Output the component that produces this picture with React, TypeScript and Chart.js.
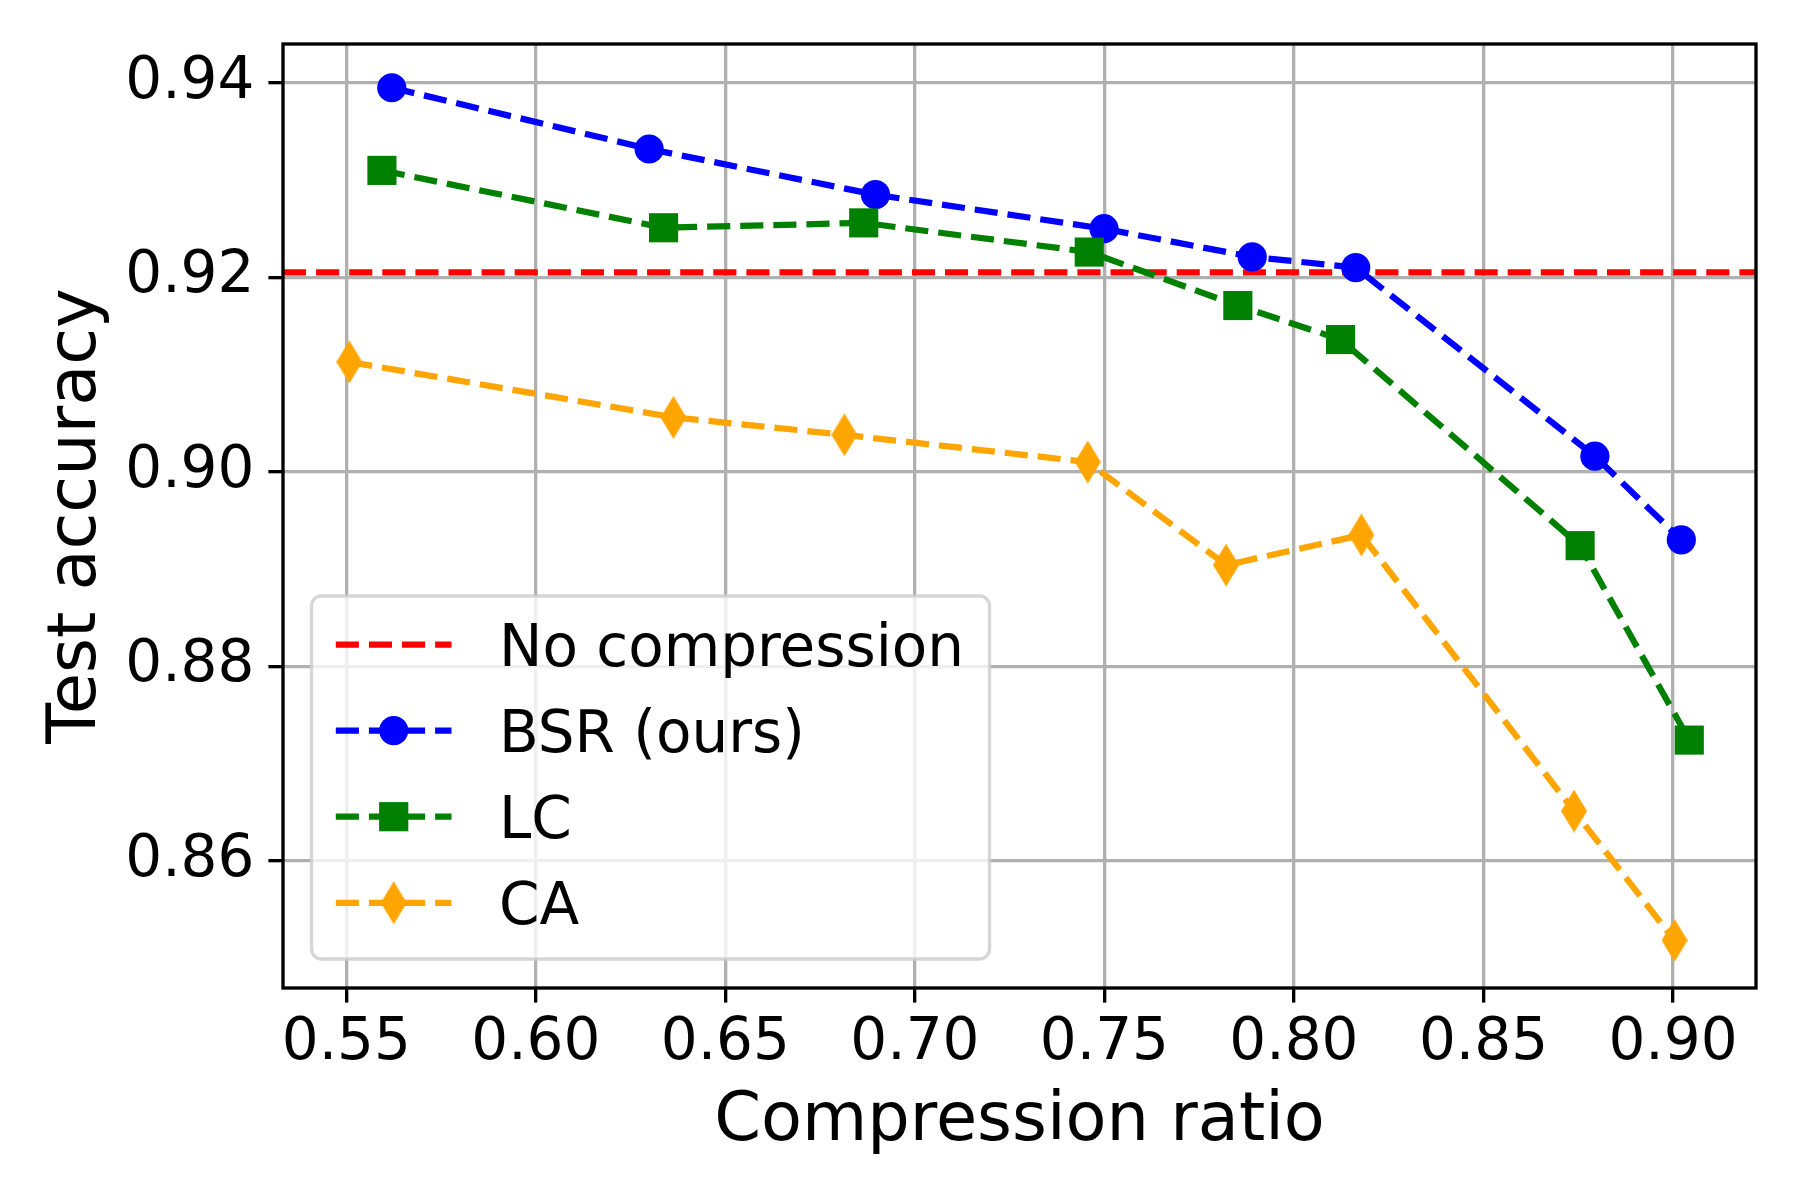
import { useEffect, useRef } from "react"
import { Chart, registerables } from "chart.js"

Chart.register(...registerables)

const X_TICKS = [0.55, 0.6, 0.65, 0.7, 0.75, 0.8, 0.85, 0.9]
const Y_TICKS = [0.86, 0.88, 0.9, 0.92, 0.94]
const X_MIN = 0.5333
const X_MAX = 0.9219
const Y_MIN = 0.8469
const Y_MAX = 0.944

const NO_COMPRESSION = 0.9205

const BSR_X = [0.562, 0.6299, 0.6896, 0.7499, 0.789, 0.8163, 0.8794, 0.9022]
const BSR_Y = [0.9395, 0.9332, 0.9285, 0.925, 0.9221, 0.921, 0.9016, 0.893]
const LC_X = [0.5594, 0.6337, 0.6865, 0.746, 0.7852, 0.8123, 0.8755, 0.9043]
const LC_Y = [0.931, 0.9251, 0.9256, 0.9226, 0.9171, 0.9136, 0.8924, 0.8724]
const CA_X = [0.5508, 0.6363, 0.6814, 0.7456, 0.7821, 0.8178, 0.8739, 0.9004]
const CA_Y = [0.9113, 0.9056, 0.9038, 0.901, 0.8904, 0.8935, 0.8651, 0.8518]

const FONT = "'DejaVu Sans', sans-serif"
const LW = 6.25
const DASH = [23.1, 10]

function pts(xs: number[], ys: number[]) {
  return xs.map((x, i) => ({ x, y: ys[i] }))
}

// matplotlib-style thin diamond marker
function makeDiamond(color: string) {
  const c = document.createElement("canvas")
  c.width = 26
  c.height = 43
  const g = c.getContext("2d")!
  g.fillStyle = color
  g.beginPath()
  g.moveTo(13, 0)
  g.lineTo(26, 21.5)
  g.lineTo(13, 43)
  g.lineTo(0, 21.5)
  g.closePath()
  g.fill()
  return c
}

function drawMarker(ctx: CanvasRenderingContext2D, kind: string, x: number, y: number, color: string, img?: HTMLCanvasElement) {
  ctx.save()
  ctx.fillStyle = color
  if (kind === "circle") {
    ctx.beginPath()
    ctx.arc(x, y, 14.6, 0, Math.PI * 2)
    ctx.fill()
  } else if (kind === "rect") {
    ctx.fillRect(x - 14.6, y - 14.6, 29.2, 29.2)
  } else if (kind === "diamond" && img) {
    ctx.drawImage(img, x - img.width / 2, y - img.height / 2)
  }
  ctx.restore()
}

export default function App() {
  const chartRef = useRef<HTMLCanvasElement>(null)
  const chartInstance = useRef<Chart | null>(null)

  useEffect(() => {
    document.body.style.margin = "0"
    if (!chartRef.current) return
    const ctx = chartRef.current.getContext("2d")
    if (!ctx) return
    if (chartInstance.current) chartInstance.current.destroy()

    const diamond = makeDiamond("#ffa500")
    const markers = [
      { kind: "none", color: "#ff0000" },
      { kind: "circle", color: "#0000ff" },
      { kind: "rect", color: "#008000" },
      { kind: "diamond", color: "#ffa500" },
    ]

    // full box around the axes (spines)
    const framePlugin = {
      id: "frame",
      afterDatasetsDraw(chart: any) {
        const { left, right, top, bottom } = chart.chartArea
        const c = chart.ctx
        c.save()
        c.strokeStyle = "#000"
        c.lineWidth = 3.33
        c.strokeRect(left, top, right - left, bottom - top)
        c.restore()
      },
    }

    // legend inside the plot, lower left
    const legendPlugin = {
      id: "innerLegend",
      afterDraw(chart: any) {
        const c = chart.ctx as CanvasRenderingContext2D
        const bx = 311.5, by = 596, bw = 678, bh = 363, r = 10
        c.save()
        c.beginPath()
        c.moveTo(bx + r, by)
        c.arcTo(bx + bw, by, bx + bw, by + bh, r)
        c.arcTo(bx + bw, by + bh, bx, by + bh, r)
        c.arcTo(bx, by + bh, bx, by, r)
        c.arcTo(bx, by, bx + bw, by, r)
        c.closePath()
        c.fillStyle = "rgba(255,255,255,0.8)"
        c.fill()
        c.strokeStyle = "rgba(204,204,204,0.8)"
        c.lineWidth = 3.33
        c.stroke()

        chart.data.datasets.forEach((ds: any, i: number) => {
          const y = 644.5 + i * 86.1
          const m = markers[i]
          c.beginPath()
          c.setLineDash(DASH)
          c.lineCap = "butt"
          c.strokeStyle = m.color
          c.lineWidth = LW
          c.moveTo(335.8, y)
          c.lineTo(451.5, y)
          c.stroke()
          c.setLineDash([])
          drawMarker(c, m.kind, 393.7, y, m.color, diamond)
          c.fillStyle = "#000"
          c.font = `58px ${FONT}`
          c.textBaseline = "alphabetic"
          c.textAlign = "left"
          c.fillText(ds.label, 499, y + 21.3)
        })
        c.restore()
      },
    }

    const tickFont = { family: FONT, size: 58, lineHeight: 1 }
    const titleFont = { family: FONT, size: 67, lineHeight: 1 }
    const common = {
      fill: false,
      tension: 0,
      borderWidth: LW,
      borderDash: DASH,
      borderCapStyle: "butt" as const,
      borderJoinStyle: "round" as const,
      pointBorderWidth: 0,
    }

    chartInstance.current = new Chart(ctx, {
      type: "line",
      data: {
        datasets: [
          {
            ...common,
            label: "No compression",
            data: [
              { x: X_MIN, y: NO_COMPRESSION },
              { x: X_MAX, y: NO_COMPRESSION },
            ],
            borderColor: "#ff0000",
            pointRadius: 0,
            order: 4,
          },
          {
            ...common,
            label: "BSR (ours)",
            data: pts(BSR_X, BSR_Y),
            borderColor: "#0000ff",
            pointBackgroundColor: "#0000ff",
            pointStyle: "circle",
            pointRadius: 14.6,
            order: 3,
          },
          {
            ...common,
            label: "LC",
            data: pts(LC_X, LC_Y),
            borderColor: "#008000",
            pointBackgroundColor: "#008000",
            pointStyle: "rect",
            pointRadius: 20.6,
            order: 2,
          },
          {
            ...common,
            label: "CA",
            data: pts(CA_X, CA_Y),
            borderColor: "#ffa500",
            pointBackgroundColor: "#ffa500",
            pointStyle: diamond,
            pointRadius: 13,
            order: 1,
          },
        ] as any,
      },
      options: {
        animation: false,
        responsive: true,
        maintainAspectRatio: false,
        devicePixelRatio: 1,
        layout: { padding: { top: 44, right: 44, left: 0, bottom: 0 } },
        plugins: {
          legend: { display: false },
          tooltip: { enabled: false },
        },
        scales: {
          x: {
            type: "linear",
            min: X_MIN,
            max: X_MAX,
            afterBuildTicks: (axis: any) => {
              axis.ticks = X_TICKS.map((v) => ({ value: v }))
            },
            afterFit: (axis: any) => {
              axis.height = 212
            },
            ticks: {
              font: tickFont,
              color: "#000",
              padding: 12,
              maxRotation: 0,
              autoSkip: false,
              callback: (v: any) => Number(v).toFixed(2),
            },
            grid: {
              color: "#b0b0b0",
              lineWidth: 3.33,
              tickColor: "#000",
              tickWidth: 3.33,
              tickLength: 14.6,
            },
            border: { display: false },
            title: {
              display: true,
              text: "Compression ratio",
              font: titleFont,
              color: "#000",
              padding: { top: 0, bottom: 44 },
            },
          },
          y: {
            type: "linear",
            min: Y_MIN,
            max: Y_MAX,
            afterBuildTicks: (axis: any) => {
              axis.ticks = Y_TICKS.map((v) => ({ value: v }))
            },
            afterFit: (axis: any) => {
              axis.width = 283
            },
            ticks: {
              font: tickFont,
              color: "#000",
              padding: 14,
              autoSkip: false,
              callback: (v: any) => Number(v).toFixed(2),
            },
            grid: {
              color: "#b0b0b0",
              lineWidth: 3.33,
              tickColor: "#000",
              tickWidth: 3.33,
              tickLength: 14.6,
            },
            border: { display: false },
            title: {
              display: true,
              text: "Test accuracy",
              font: titleFont,
              color: "#000",
              padding: { top: 44, bottom: 0 },
            },
          },
        },
      },
      plugins: [framePlugin, legendPlugin],
    })

    return () => {
      if (chartInstance.current) {
        chartInstance.current.destroy()
        chartInstance.current = null
      }
    }
  }, [])

  return (
    <div style={{ width: 1800, height: 1200, position: "relative", background: "#fff" }}>
      <canvas ref={chartRef} />
    </div>
  )
}
